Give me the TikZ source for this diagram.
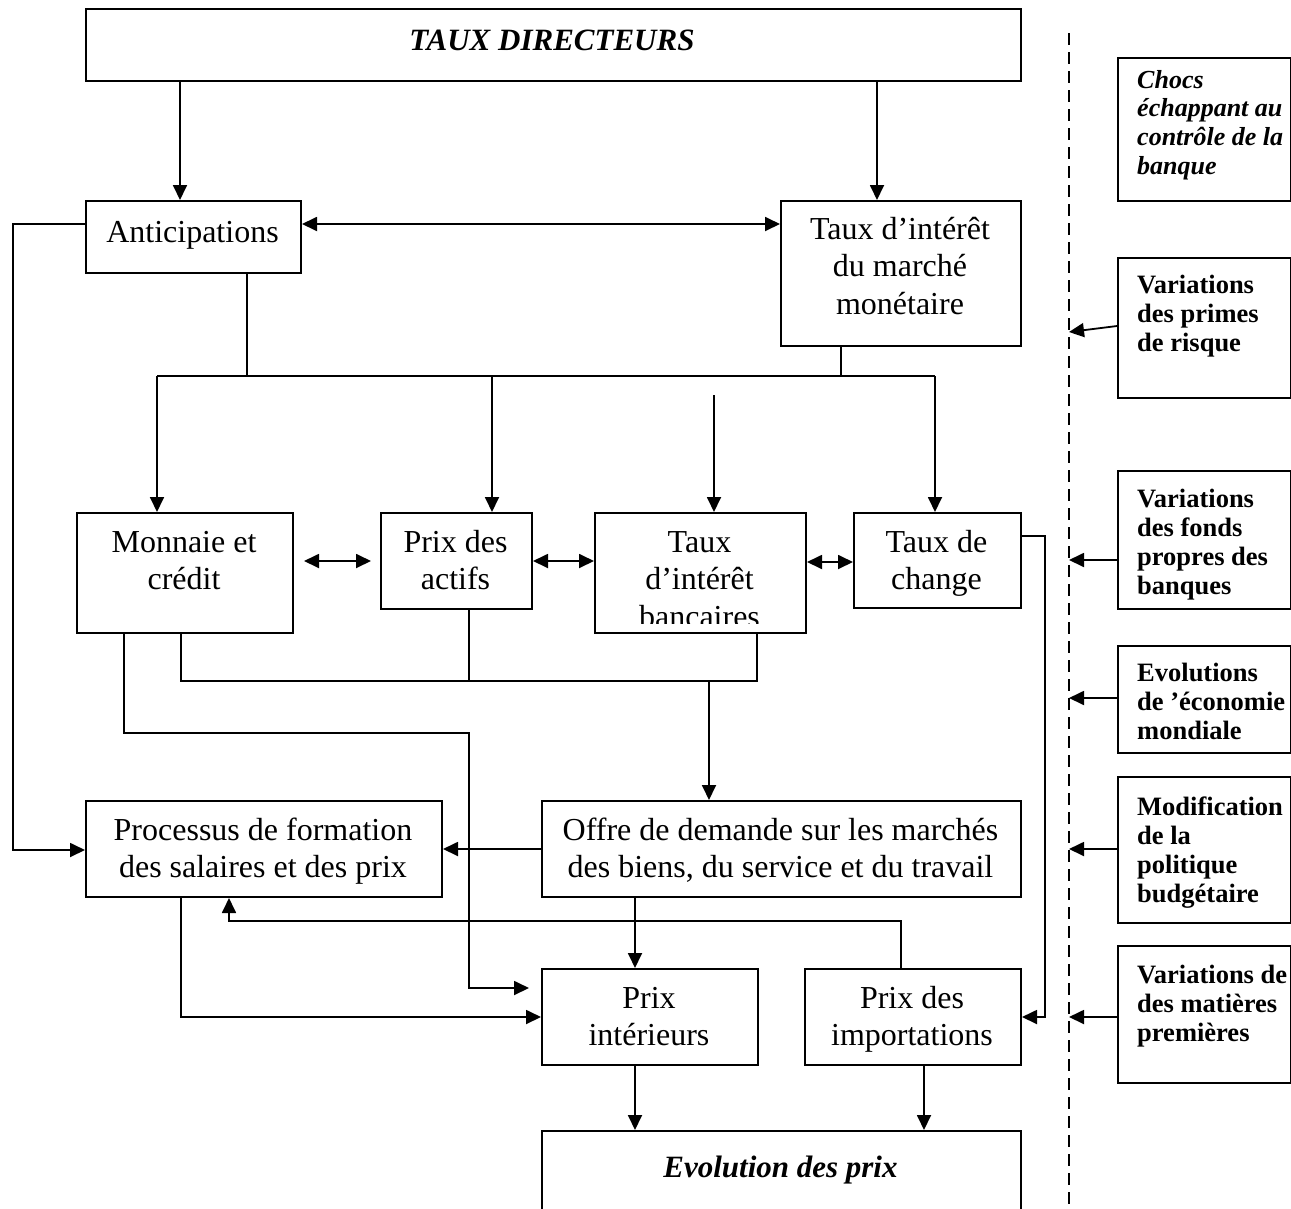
\documentclass[tikz,border=0pt]{standalone}
\usepackage{fontspec}
\setmainfont{Liberation Serif}
\usetikzlibrary{arrows.meta}
\newcommand{\mkbox}[5]{\node[boxst, anchor=north west, minimum width={(#4)-(#2)}, minimum height={(#5)-(#3)}] (#1) at (#2,#3) {};}
\begin{document}
\begin{tikzpicture}[x=1pt,y=-1pt,
  boxst/.style={draw, line width=2pt, inner sep=0pt},
  conn/.style={line width=1.8pt},
  arr/.style={conn, -{Triangle[length=15pt,width=14pt]}},
  darr/.style={conn, {Triangle[length=15pt,width=14pt]}-{Triangle[length=15pt,width=14pt]}},
  mtxt/.style={font=\fontsize{32}{37.5}\selectfont, inner sep=0pt, align=flush center, anchor=base},
  stxt/.style={font=\fontsize{26.5}{29}\selectfont\bfseries, inner sep=0pt, align=flush left, anchor=base west, text width=175pt},
]
\useasboundingbox (0,0) rectangle (1291,1208);
\clip (0,0) rectangle (1291,1208);

% boxes
\mkbox{top}{85}{8}{1020}{80}
\mkbox{ant}{85}{200}{300}{272}
\mkbox{tim}{780}{200}{1020}{345}
\mkbox{mon}{76}{512}{292}{632}
\mkbox{pda}{380}{512}{531}{608}
\mkbox{tib}{594}{512}{805}{632}
\mkbox{tdc}{853}{512}{1020}{607}
\mkbox{pro}{85}{800}{441}{896}
\mkbox{off}{541}{800}{1020}{896}
\mkbox{pin}{541}{968}{757}{1064}
\mkbox{pim}{804}{968}{1020}{1064}
\mkbox{evo}{541}{1130}{1020}{1240}
\mkbox{chocs}{1117}{57}{1289.5}{200}
\mkbox{prim}{1117}{257}{1289.5}{397}
\mkbox{fonds}{1117}{470}{1289.5}{608}
\mkbox{econ}{1117}{645}{1289.5}{752}
\mkbox{budg}{1117}{776}{1289.5}{922}
\mkbox{mat}{1117}{945}{1289.5}{1082}

% texts
\node[mtxt, text width=900pt, font=\fontsize{31}{37}\selectfont\bfseries\itshape] (t-top) at (552,50) {TAUX DIRECTEURS};
\node[mtxt, text width=215pt] (t-ant) at (192.5,242) {Anticipations};
\node[mtxt, text width=240pt] (t-tim) at (900,239) {Taux d’intérêt\\du marché\\monétaire};
\node[mtxt, text width=216pt] (t-mon) at (184,552) {Monnaie et\\crédit};
\node[mtxt, text width=151pt] (t-pda) at (455.5,552) {Prix des\\actifs};
\begin{scope}
\clip (594,512) rectangle (805,623);
\node[mtxt, text width=211pt] (t-tib) at (699.5,552) {Taux\\d’intérêt\\bancaires};
\end{scope}
\node[mtxt, text width=167pt] (t-tdc) at (936.5,552) {Taux de\\change};
\node[mtxt, text width=356pt] (t-pro) at (263,840) {Processus de formation\\des salaires et des prix};
\node[mtxt, text width=479pt] (t-off) at (780.5,840) {Offre de demande sur les marchés\\des biens, du service et du travail};
\node[mtxt, text width=216pt] (t-pin) at (649,1008) {Prix\\intérieurs};
\node[mtxt, text width=216pt] (t-pim) at (912,1008) {Prix des\\importations};
\node[mtxt, text width=479pt, font=\fontsize{31}{37}\selectfont\bfseries\itshape] (t-evo) at (780.5,1177) {Evolution des prix};

\node[stxt, font=\fontsize{26}{28.7}\selectfont\bfseries\itshape] (t-chocs) at (1137,88) {Chocs\\échappant au\\contrôle de la\\banque};
\node[stxt] (t-prim) at (1137,293) {Variations\\des primes\\de risque};
\begin{scope}
\clip (1117,470) rectangle (1290,599);
\node[stxt] (t-fonds) at (1137,507) {Variations\\des fonds\\propres des\\banques};
\end{scope}
\node[stxt] (t-econ) at (1137,681) {Evolutions\\de ’économie\\mondiale};
\node[stxt] (t-budg) at (1137,815) {Modification\\de la\\politique\\budgétaire};
\node[stxt] (t-mat) at (1137,983) {Variations de\\des matières\\premières};

% dashed separator
\coordinate (dtop) at (1069,33);
\coordinate (dbot) at (1069,1215);
\draw[line width=2pt, dash pattern=on 12pt off 7pt] (dtop) -- (dbot);

% connectors
\draw[arr] (top.south -| 180,0) -- (ant.north -| 180,0);
\draw[arr] (top.south -| 877,0) -- (tim.north -| 877,0);
\draw[darr] (ant.east |- 0,224) -- (tim.west |- 0,224);
\draw[arr] (ant.west |- 0,224) -- (13,224) -- (13,850) -- (pro.west |- 0,850);
\draw[conn] (ant.south -| 247,0) -- (247,376);
\draw[conn] (tim.south -| 841,0) -- (841,376);
\draw[conn] (157,376) -- (935,376);
\draw[arr] (157,376) -- (mon.north -| 157,0);
\draw[arr] (492,376) -- (pda.north -| 492,0);
\draw[arr] (935,376) -- (tdc.north -| 935,0);
\coordinate (tibin) at (714,395);
\draw[arr] (tibin) -- (tib.north -| tibin);
\draw[darr, shorten <=10pt, shorten >=9pt] (mon.east |- 0,561) -- (pda.west |- 0,561);
\draw[darr] (pda.east |- 0,561) -- (tib.west |- 0,561);
\draw[darr] (tib.east |- 0,562) -- (tdc.west |- 0,562);
\draw[conn] (mon.south -| 181,0) -- (181,681) -- (757,681) -- (tib.south -| 757,0);
\draw[conn] (pda.south -| 469,0) -- (469,681);
\draw[arr] (709,681) -- (off.north -| 709,0);
\draw[arr, shorten >=12pt] (mon.south -| 124,0) -- (124,733) -- (469,733) -- (469,988) -- (pin.west |- 0,988);
\draw[arr] (off.west |- 0,849) -- (pro.east |- 0,849);
\draw[arr] (off.south -| 635,0) -- (pin.north -| 635,0);
\draw[arr] (pro.south -| 181,0) -- (181,1017) -- (pin.west |- 0,1017);
\draw[arr] (pim.north -| 901,0) -- (901,921) -- (229,921) -- (pro.south -| 229,0);
\draw[arr] (tdc.east |- 0,536) -- (1045,536) -- (1045,1017) -- (pim.east |- 0,1017);
\draw[arr] (pin.south -| 635,0) -- (evo.north -| 635,0);
\draw[arr] (pim.south -| 924,0) -- (evo.north -| 924,0);

% shocks to separator
\draw[arr] (prim.west |- 0,326) -- (dtop |- 0,332);
\draw[arr] (fonds.west |- 0,560) -- (dtop |- 0,560);
\draw[arr] (econ.west |- 0,698) -- (dtop |- 0,698);
\draw[arr] (budg.west |- 0,849) -- (dtop |- 0,849);
\draw[arr] (mat.west |- 0,1017) -- (dtop |- 0,1017);
\end{tikzpicture}
\end{document}
